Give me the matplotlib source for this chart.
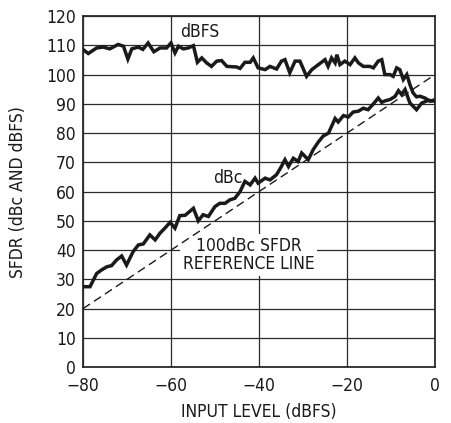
import os
import matplotlib
matplotlib.use("Agg")
import matplotlib.pyplot as plt
from matplotlib import font_manager

# SFDR vs input level, digitised sweep
x_dbfs = [-80, -78.8, -76.9, -75.4, -73.9, -72, -70.8, -69.8, -68.9, -67.4, -66.4, -65.2,
          -63.9, -62.5, -61, -60, -59.1, -58.3, -57.2, -56.1, -54.9, -54, -53, -51.9,
          -50.8, -49.6, -48.5, -47.3, -45.1, -44.3, -43.2, -42, -41.3, -40.2, -38.6,
          -37.5, -36, -34.9, -34.1, -33, -31.8, -30.7, -29.2, -28, -26.5, -25, -24.3,
          -23.5, -22.7, -22.3, -21.6, -20.5, -19.3, -18.2, -17.4, -16.3, -14.8, -14,
          -12.9, -12.1, -11.4, -10.2, -9.5, -8.7, -8, -7.2, -6.4, -5.7, -5, -4.2, -3.4,
          -2.3, -1.1, 0]
y_dbfs = [108.6, 107.2, 109.1, 109.4, 108.8, 110.3, 109.7, 105.3, 108.8, 109.4, 108.6, 110.8,
          107.8, 109.1, 109.1, 110.8, 107.4, 109.7, 108.8, 109.1, 109.9, 104.2, 105.7, 104,
          102.8, 104.6, 104.8, 102.8, 102.6, 102.1, 104.2, 104.2, 105.7, 102.3, 101.7,
          102.8, 101.9, 104.6, 105.1, 100.6, 104.6, 104.6, 99.4, 101.7, 103.4, 105.1, 102.8,
          105.7, 104, 106.8, 103.4, 104.6, 103.4, 105.7, 104, 102.8, 102.8, 102.3,
          104.6, 105.1, 100, 100, 99.4, 102.3, 101.7, 98.3, 100, 96.6, 93.8, 92.4, 92.6,
          92, 90.9, 91.4]

x_dbc = [-80, -78.4, -76.9, -75.8, -74.6, -73.5, -72.4, -71.2, -70.1, -68.6, -67.4, -66.3,
         -64.8, -63.6, -62.5, -61.4, -60.2, -59.1, -58, -56.8, -54.9, -53.8, -52.7, -51.5,
         -50, -48.9, -47.7, -46.6, -45.5, -44.3, -43.2, -42, -40.9, -40.2, -38.6, -37.5,
         -36, -34.9, -34.1, -33.3, -32.2, -31.1, -30.3, -28.8, -27.7, -26.5, -25.4, -24.2,
         -22.7, -22, -20.8, -19.7, -18.6, -17.4, -16.3, -15.2, -14, -12.9, -12.1, -11.4,
         -10.2, -9.1, -8.3, -7.6, -6.8, -5.7, -4.2, -3, -1.5, 0]
y_dbc = [27.5, 27.5, 32, 33.2, 34.3, 34.7, 36.6, 38, 34.9, 39.5, 41.8, 42.1,
         45.2, 43.5, 45.8, 47.5, 49.5, 47.5, 51.8, 51.9, 54.3, 50, 52.1, 51.5,
         54.9, 56, 56, 57.2, 57.7, 60, 63.5, 62.3, 64.6, 62.9, 64.6, 64,
         65.8, 68.6, 70.9, 68.6, 71.4, 70.3, 73.2, 70.9, 74.3, 77, 79, 80,
         85, 83.8, 86, 85.5, 87.2, 87.5, 88.5, 88, 90, 92, 90.5, 91,
         91.5, 92.5, 94.5, 93.2, 94.9, 90.3, 88, 90.3, 91.2, 90.9]

# 100dBc SFDR reference: dBc = 100 + input level
ref_x = [-80, 0]
ref_y = [20, 100]

xticks = [-80, -60, -40, -20, 0]
yticks = list(range(0, 121, 10))

# prefer a narrow sans if one is installed
narrow = None
for f in font_manager.fontManager.ttflist:
    base = os.path.basename(f.fname).lower()
    if ("narrow" in base or "condensed" in base) and "bold" not in base \
            and "oblique" not in base and "italic" not in base:
        narrow = f.fname
        break
if narrow:
    fp = font_manager.FontProperties(fname=narrow)
    size = 12.5
else:
    fp = font_manager.FontProperties(family="Liberation Sans")
    size = 11.5

fig = plt.figure(figsize=(4.51, 4.23), dpi=100)
ax = fig.add_axes([0.184, 0.132, 0.7805, 0.83])

ax.plot(x_dbfs, y_dbfs, color="#1a1a1a", lw=2.5, solid_joinstyle="miter", zorder=4)
ax.plot(x_dbc, y_dbc, color="#1a1a1a", lw=2.5, solid_joinstyle="miter", zorder=4)
ax.plot(ref_x, ref_y, color="#1a1a1a", lw=1.0, ls=(0, (6, 3.5)), zorder=3)

ax.set_xlim(-80, 0)
ax.set_ylim(0, 120)
ax.set_xticks(xticks)
ax.set_yticks(yticks)
ax.set_xticklabels(["\u221280", "\u221260", "\u221240", "\u221220", "0"])
ax.tick_params(length=0, pad=5, colors="#1a1a1a")
for lab in ax.get_xticklabels() + ax.get_yticklabels():
    lab.set_fontproperties(fp)
    lab.set_fontsize(size)
ax.tick_params(axis="x", pad=7)
ax.grid(True, color="#2a2a2a", lw=0.9)
ax.set_axisbelow(True)
for s in ax.spines.values():
    s.set_color("#2a2a2a")
    s.set_linewidth(1.3)

ax.set_xlabel("INPUT LEVEL (dBFS)", fontproperties=fp, fontsize=size, color="#1a1a1a", labelpad=6)
ax.set_ylabel("SFDR (dBc AND dBFS)", fontproperties=fp, fontsize=size, color="#1a1a1a", labelpad=14)

ax.text(-53.4, 114.4, "dBFS", fontproperties=fp, fontsize=size, ha="center", va="center",
        color="#1a1a1a", zorder=5)
ax.text(-47, 64.5, "dBc", fontproperties=fp, fontsize=size, ha="center", va="center",
        color="#1a1a1a", zorder=5)
ax.text(-42.3, 38.4, "100dBc SFDR\nREFERENCE LINE", fontproperties=fp, fontsize=size,
        ha="center", va="center", linespacing=1.0, color="#1a1a1a", zorder=2.5,
        bbox=dict(facecolor="white", edgecolor="none", pad=2))

fig.savefig("out.png", dpi=100)
